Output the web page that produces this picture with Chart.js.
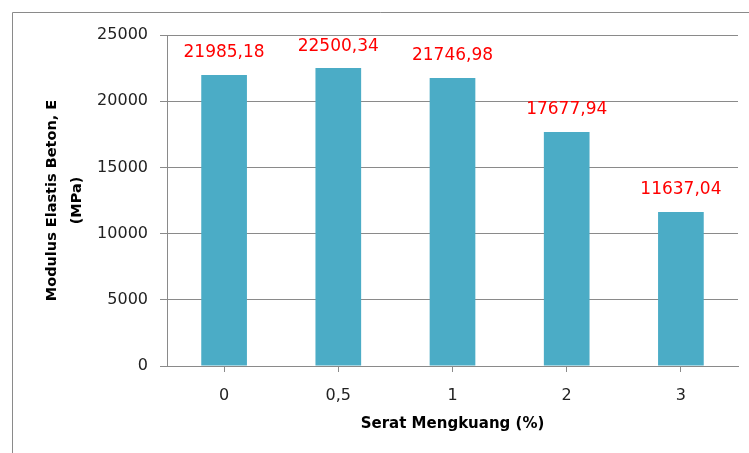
<!DOCTYPE html>
<html>
<head>
<meta charset="utf-8">
<script src="https://cdn.jsdelivr.net/npm/chart.js@4.4.0/dist/chart.umd.min.js"></script>
<style>
  html, body { margin: 0; padding: 0; background: #ffffff; }
  #wrap { width: 749px; height: 453px; position: relative; }
</style>
</head>
<body>
<div id="wrap"><canvas id="modulusChart" width="749" height="453"></canvas></div>
<script>
// data
const categories = ['0', '0,5', '1', '2', '3'];
const modulusValues = [21985.18, 22500.34, 21746.98, 17677.94, 11637.04];
const valueLabels = ['21985,18', '22500,34', '21746,98', '17677,94', '11637,04'];
const yTicks = [0, 5000, 10000, 15000, 20000, 25000];

const yTitleLines = ['Modulus Elastis Beton, E', '(MPa)'];
const xTitle = 'Serat Mengkuang (%)';

const FONT = "'DejaVu Sans', sans-serif";

// ── outer frame + axis titles ──────────────────────────────────────────
const framePlugin = {
    id: 'frame',
    beforeDraw(chart) {
        const c = chart.ctx;
        c.save();
        c.strokeStyle = '#8a8a8a';
        c.lineWidth = 1;
        c.beginPath();
        c.moveTo(12.5, 453);
        c.lineTo(12.5, 12.5);
        c.lineTo(749, 12.5);
        c.stroke();
        c.restore();
    },
    afterDraw(chart) {
        const c = chart.ctx;
        const area = chart.chartArea;
        c.save();
        c.fillStyle = '#000000';
        c.font = 'bold 14.5px ' + FONT;
        c.textAlign = 'center';
        c.textBaseline = 'middle';
        // y title, rotated
        const yMid = (area.top + area.bottom) / 2;
        c.translate(0, yMid);
        c.rotate(-Math.PI / 2);
        c.fillText(yTitleLines[0], 0, 52);
        c.fillText(yTitleLines[1], 0, 77);
        c.restore();

        c.save();
        c.fillStyle = '#000000';
        c.font = 'bold 15px ' + FONT;
        c.textAlign = 'center';
        c.textBaseline = 'middle';
        c.fillText(xTitle, (area.left + area.right) / 2, 424);
        c.restore();
    }
};

// ── red value labels above bars ─────────────────────────────────────────
const valueLabelPlugin = {
    id: 'valueLabels',
    afterDatasetsDraw(chart) {
        const c = chart.ctx;
        const meta = chart.getDatasetMeta(0);
        c.save();
        c.fillStyle = '#ff0000';
        c.font = '17px ' + FONT;
        c.textAlign = 'center';
        c.textBaseline = 'middle';
        meta.data.forEach((bar, i) => {
            c.fillText(valueLabels[i], bar.x, bar.y - 22);
        });
        c.restore();
    }
};

new Chart(document.getElementById('modulusChart').getContext('2d'), {
    type: 'bar',
    data: {
        labels: categories,
        datasets: [{
            data: modulusValues,
            backgroundColor: '#4bacc6',
            borderWidth: 0,
            barPercentage: 0.4,
            categoryPercentage: 1.0
        }]
    },
    options: {
        responsive: false,
        animation: false,
        layout: { padding: { left: 0, top: 35, right: 11, bottom: 0 } },
        plugins: {
            legend: { display: false },
            tooltip: { enabled: false }
        },
        scales: {
            x: {
                grid: {
                    display: true,
                    drawOnChartArea: false,
                    offset: false,
                    color: '#8a8a8a',
                    tickLength: 6
                },
                border: { color: '#8a8a8a' },
                ticks: {
                    color: '#222222',
                    font: { family: FONT, size: 16 },
                    padding: 14
                },
                afterFit(scale) { scale.height = 87; }
            },
            y: {
                min: 0,
                max: 25000,
                afterBuildTicks(scale) {
                    scale.ticks = yTicks.map(v => ({ value: v }));
                },
                grid: {
                    color: '#8a8a8a',
                    tickLength: 7
                },
                border: { color: '#8a8a8a' },
                ticks: {
                    color: '#222222',
                    font: { family: FONT, size: 16 },
                    padding: 12,
                    callback: (v) => String(v)
                },
                afterFit(scale) { scale.width = 167; }
            }
        }
    },
    plugins: [framePlugin, valueLabelPlugin]
});
</script>
</body>
</html>
